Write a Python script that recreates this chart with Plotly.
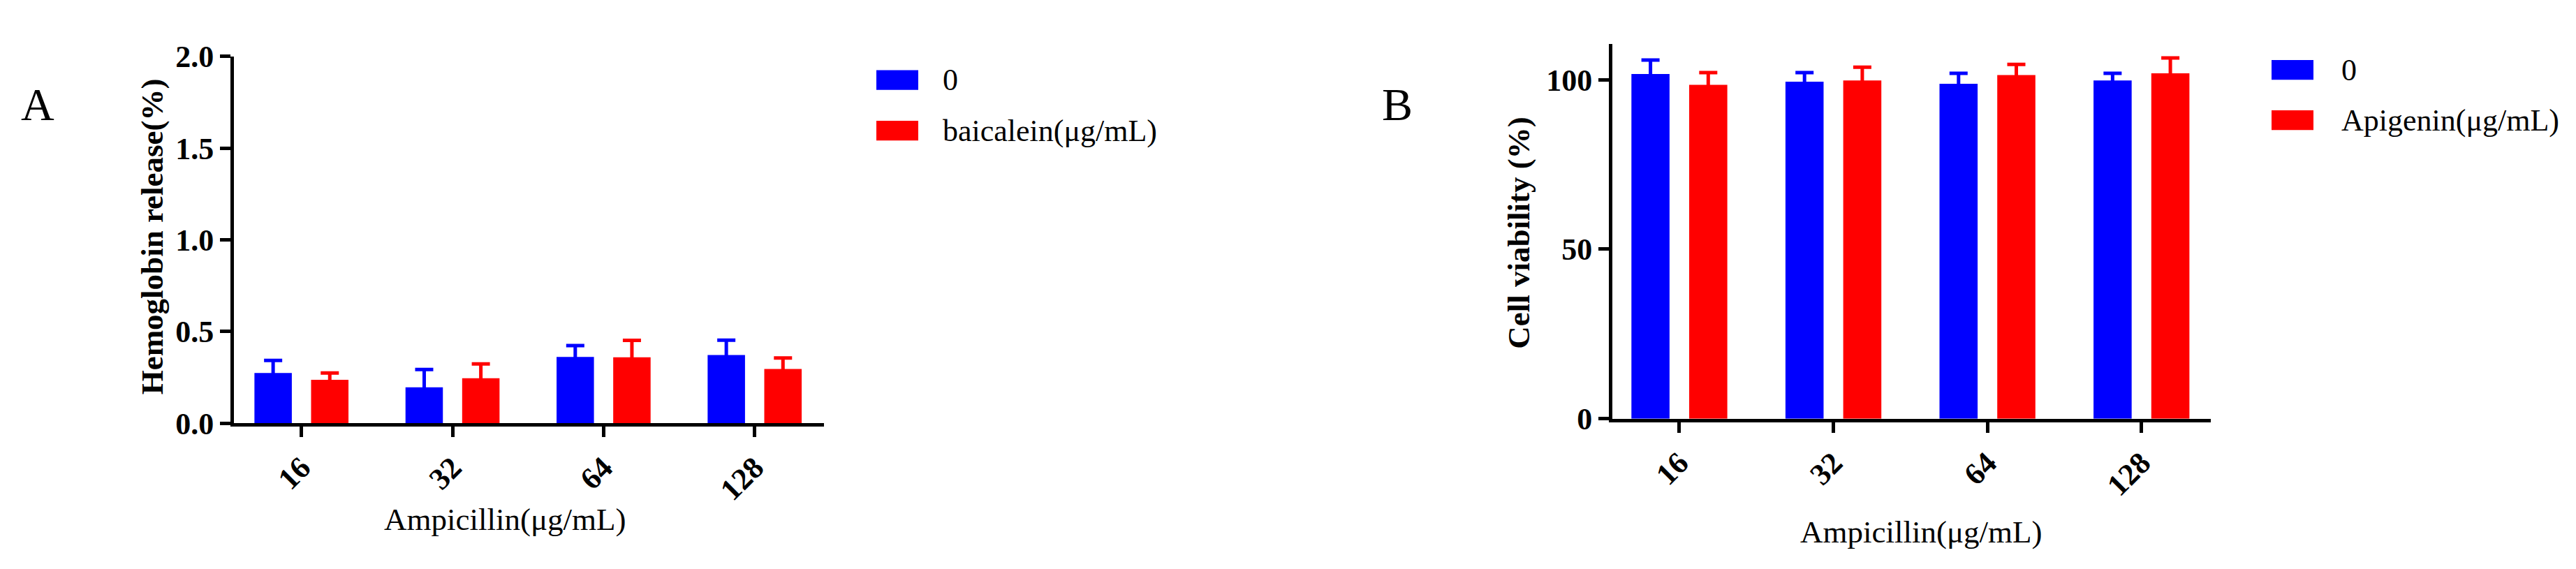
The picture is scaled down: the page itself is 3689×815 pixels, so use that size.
import plotly.graph_objects as go

doses = ["16", "32", "64", "128"]

# A: hemoglobin release (%)
hemo_ctrl = [0.274, 0.196, 0.362, 0.372]
hemo_ctrl_err = [0.069, 0.097, 0.062, 0.081]
hemo_baic = [0.237, 0.246, 0.360, 0.296]
hemo_baic_err = [0.037, 0.078, 0.092, 0.060]

# B: cell viability (%)
viab_ctrl = [101.7, 99.4, 98.8, 99.8]
viab_ctrl_err = [4.1, 2.7, 3.1, 2.1]
viab_api = [98.5, 99.8, 101.4, 101.9]
viab_api_err = [3.6, 3.9, 3.1, 4.5]

legend_a = ["0", "baicalein(μg/mL)"]
legend_b = ["0", "Apigenin(μg/mL)"]

W, H = 3689, 815
BLUE = "#0000ff"
RED = "#ff0000"
SERIF = "Liberation Serif"


def px(x):
    return x / W


def py(y):
    return 1 - y / H


def bar(x, y, err, color, xa, ya):
    return go.Bar(x=x, y=y, marker_color=color, marker_line_width=0,
                  error_y=dict(type="data", array=err, color=color,
                               thickness=5, width=13),
                  xaxis=xa, yaxis=ya, showlegend=False, hoverinfo="skip")


fig = go.Figure()
fig.add_trace(bar(doses, hemo_ctrl, hemo_ctrl_err, BLUE, "x", "y"))
fig.add_trace(bar(doses, hemo_baic, hemo_baic_err, RED, "x", "y"))
fig.add_trace(bar(doses, viab_ctrl, viab_ctrl_err, BLUE, "x2", "y2"))
fig.add_trace(bar(doses, viab_api, viab_api_err, RED, "x2", "y2"))

tickfont = dict(family=SERIF, size=44, color="black", weight="bold")
axis_common = dict(showline=True, linewidth=5, linecolor="black", showgrid=False,
                   zeroline=False, ticks="outside", ticklen=15, tickwidth=5,
                   tickcolor="black", tickfont=tickfont, fixedrange=True)

fig.update_layout(
    width=W, height=H,
    margin=dict(l=0, r=0, t=0, b=0),
    paper_bgcolor="white", plot_bgcolor="white",
    barmode="group", bargap=0.25, bargroupgap=0.34,
    font=dict(family=SERIF, color="black"),
    xaxis=dict(domain=[px(327), px(1172)], anchor="y", range=[-0.447, 3.459],
               type="category", tickangle=-45, **axis_common),
    yaxis=dict(domain=[py(611), py(52)], anchor="x", range=[0, 2], dtick=0.5,
               tickformat=".1f", **axis_common),
    xaxis2=dict(domain=[px(2301), px(3158)], anchor="y2", range=[-0.435, 3.45],
                type="category", tickangle=-45, **axis_common),
    yaxis2=dict(domain=[py(604), py(32.7)], anchor="x2", range=[0, 110.6],
                dtick=50, **axis_common),
)

annotations = [
    dict(text="A", x=px(46), y=py(125), font=dict(size=66)),
    dict(text="B", x=px(1993), y=py(125), font=dict(size=66)),
    dict(text="<b>Hemoglobin release(%)</b>", x=px(210), y=py(327),
         textangle=-90, font=dict(size=45)),
    dict(text="<b>Cell viability (%)</b>", x=px(2167), y=py(321),
         textangle=-90, font=dict(size=45)),
    dict(text="Ampicillin(μg/mL)", x=px(715), y=py(758), font=dict(size=45)),
    dict(text="Ampicillin(μg/mL)", x=px(2743), y=py(777), font=dict(size=45)),
]

shapes = []
# legend swatches + labels
for labels, sx, ys, tx in [(legend_a, 1247, [88, 165], 1340),
                           (legend_b, 3245, [72.5, 149], 3343)]:
    for lab, yc, col in zip(labels, ys, [BLUE, RED]):
        shapes.append(dict(type="rect", xref="paper", yref="paper",
                           x0=px(sx), x1=px(sx + 60), y0=py(yc + 15), y1=py(yc - 15),
                           fillcolor=col, line_width=0))
        annotations.append(dict(text=lab, x=px(tx), y=py(yc), xanchor="left",
                                font=dict(size=44)))

for a in annotations:
    a.setdefault("xanchor", "center")
    a.update(xref="paper", yref="paper", yanchor="middle", showarrow=False)
    a["font"] = dict(family=SERIF, color="black", **a["font"])

fig.update_layout(annotations=annotations, shapes=shapes)

fig.write_html("out.html")
